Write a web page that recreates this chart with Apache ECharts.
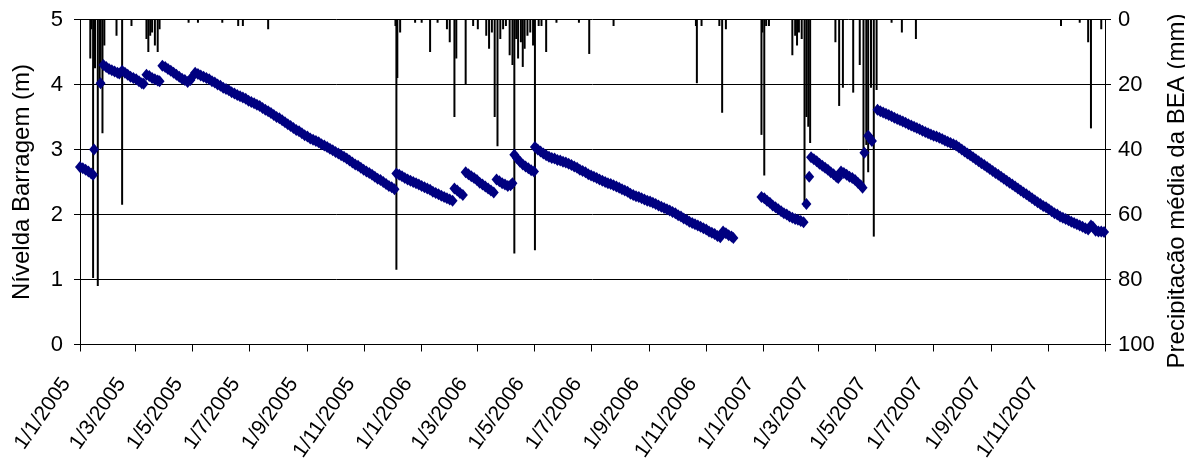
<!DOCTYPE html>
<html>
<head>
<meta charset="utf-8">
<script src="https://cdn.jsdelivr.net/npm/echarts@6/dist/echarts.min.js"></script>
<style>
  html, body { margin: 0; padding: 0; background: #fff; }
  #chart { width: 1185px; height: 462px; }
</style>
</head>
<body>
<div id="chart"></div>
<script>
// Datas marcadas no eixo horizontal (de dois em dois meses)
const rotulosX = [
  '2005-01-01','2005-03-01','2005-05-01','2005-07-01','2005-09-01','2005-11-01',
  '2006-01-01','2006-03-01','2006-05-01','2006-07-01','2006-09-01','2006-11-01',
  '2007-01-01','2007-03-01','2007-05-01','2007-07-01','2007-09-01','2007-11-01'
];
const fimEixo = '2008-01-01';

// Nível da barragem (m)
const nivel = [
  ['2005-01-01',2.73],['2005-01-04',2.71],['2005-01-07',2.69],['2005-01-10',2.66],['2005-01-13',2.63],['2005-01-15',2.61],
  ['2005-01-16',3.00],
  ['2005-01-23',4.02],
  ['2005-01-26',4.30],['2005-01-29',4.27],['2005-02-01',4.24],['2005-02-04',4.22],['2005-02-07',4.20],['2005-02-10',4.18],['2005-02-12',4.17],
  ['2005-02-15',4.21],['2005-02-18',4.18],['2005-02-21',4.15],['2005-02-24',4.12],['2005-02-27',4.10],['2005-03-02',4.08],['2005-03-05',4.05],['2005-03-08',4.02],['2005-03-10',4.01],
  ['2005-03-13',4.15],['2005-03-16',4.13],['2005-03-19',4.10],['2005-03-22',4.08],['2005-03-25',4.06],['2005-03-27',4.05],
  ['2005-03-30',4.29],['2005-04-02',4.27],['2005-04-05',4.24],['2005-04-08',4.21],['2005-04-11',4.18],['2005-04-14',4.15],['2005-04-17',4.12],['2005-04-20',4.09],['2005-04-23',4.07],['2005-04-26',4.04],
  ['2005-04-29',4.07],['2005-05-01',4.12],['2005-05-04',4.18],
  ['2005-05-07',4.16],['2005-05-10',4.14],['2005-05-13',4.12],['2005-05-16',4.10],['2005-05-19',4.08],['2005-05-22',4.05],['2005-05-25',4.03],['2005-05-28',4.00],['2005-05-31',3.98],
  ['2005-06-03',3.95],['2005-06-06',3.93],['2005-06-09',3.91],['2005-06-12',3.88],['2005-06-15',3.86],['2005-06-18',3.84],['2005-06-21',3.82],['2005-06-24',3.80],['2005-06-27',3.78],['2005-06-30',3.75],
  ['2005-07-03',3.73],['2005-07-06',3.71],['2005-07-09',3.69],['2005-07-12',3.67],['2005-07-15',3.64],['2005-07-18',3.61],['2005-07-21',3.59],['2005-07-24',3.56],['2005-07-27',3.53],['2005-07-30',3.50],
  ['2005-08-02',3.48],['2005-08-05',3.45],['2005-08-08',3.42],['2005-08-11',3.39],['2005-08-14',3.36],['2005-08-17',3.33],['2005-08-20',3.30],['2005-08-23',3.28],['2005-08-26',3.25],['2005-08-29',3.22],
  ['2005-09-01',3.20],['2005-09-04',3.17],['2005-09-07',3.15],['2005-09-10',3.13],['2005-09-13',3.11],['2005-09-16',3.08],['2005-09-19',3.06],['2005-09-22',3.04],['2005-09-25',3.01],['2005-09-28',2.99],
  ['2005-10-01',2.96],['2005-10-04',2.94],['2005-10-07',2.91],['2005-10-10',2.89],['2005-10-13',2.86],['2005-10-16',2.83],['2005-10-19',2.80],['2005-10-22',2.77],['2005-10-25',2.75],['2005-10-28',2.72],['2005-10-31',2.69],
  ['2005-11-03',2.66],['2005-11-06',2.64],['2005-11-09',2.61],['2005-11-12',2.58],['2005-11-15',2.55],['2005-11-18',2.53],['2005-11-21',2.50],['2005-11-24',2.47],['2005-11-27',2.44],['2005-11-30',2.42],
  ['2005-12-03',2.39],
  ['2005-12-05',2.63],['2005-12-08',2.61],['2005-12-11',2.59],['2005-12-14',2.56],['2005-12-17',2.54],['2005-12-20',2.52],['2005-12-23',2.50],['2005-12-26',2.48],['2005-12-29',2.46],
  ['2006-01-01',2.44],['2006-01-04',2.42],['2006-01-07',2.40],['2006-01-10',2.38],['2006-01-13',2.35],['2006-01-16',2.33],['2006-01-19',2.31],['2006-01-22',2.29],['2006-01-25',2.27],['2006-01-28',2.25],['2006-01-31',2.23],
  ['2006-02-03',2.21],
  ['2006-02-05',2.40],['2006-02-08',2.37],['2006-02-11',2.33],['2006-02-14',2.30],
  ['2006-02-17',2.65],['2006-02-20',2.62],['2006-02-23',2.59],['2006-02-26',2.56],['2006-03-01',2.53],['2006-03-04',2.49],['2006-03-07',2.46],['2006-03-10',2.43],['2006-03-13',2.40],['2006-03-16',2.37],['2006-03-19',2.34],
  ['2006-03-22',2.54],['2006-03-25',2.51],['2006-03-28',2.48],['2006-03-31',2.46],['2006-04-03',2.44],['2006-04-06',2.45],['2006-04-08',2.48],
  ['2006-04-10',2.92],['2006-04-13',2.86],['2006-04-16',2.81],['2006-04-19',2.77],['2006-04-22',2.74],['2006-04-25',2.71],['2006-04-28',2.68],['2006-05-01',2.66],
  ['2006-05-02',3.04],['2006-05-05',3.00],['2006-05-08',2.97],['2006-05-11',2.94],['2006-05-14',2.91],['2006-05-17',2.89],['2006-05-20',2.87],['2006-05-23',2.86],['2006-05-26',2.84],['2006-05-29',2.83],
  ['2006-06-01',2.81],['2006-06-04',2.80],['2006-06-07',2.78],['2006-06-10',2.76],['2006-06-13',2.74],['2006-06-16',2.72],['2006-06-19',2.69],['2006-06-22',2.67],['2006-06-25',2.65],['2006-06-28',2.62],
  ['2006-07-01',2.60],['2006-07-04',2.58],['2006-07-07',2.56],['2006-07-10',2.54],['2006-07-13',2.52],['2006-07-16',2.50],['2006-07-19',2.48],['2006-07-22',2.47],['2006-07-25',2.45],['2006-07-28',2.43],['2006-07-31',2.41],
  ['2006-08-03',2.39],['2006-08-06',2.37],['2006-08-09',2.35],['2006-08-12',2.32],['2006-08-15',2.30],['2006-08-18',2.28],['2006-08-21',2.27],['2006-08-24',2.25],['2006-08-27',2.23],['2006-08-30',2.21],
  ['2006-09-02',2.20],['2006-09-05',2.18],['2006-09-08',2.16],['2006-09-11',2.14],['2006-09-14',2.12],['2006-09-17',2.10],['2006-09-20',2.08],['2006-09-23',2.06],['2006-09-26',2.04],['2006-09-29',2.02],
  ['2006-10-02',1.99],['2006-10-05',1.97],['2006-10-08',1.94],['2006-10-11',1.92],['2006-10-14',1.89],['2006-10-17',1.87],['2006-10-20',1.85],['2006-10-23',1.83],['2006-10-26',1.81],['2006-10-29',1.79],
  ['2006-11-01',1.77],['2006-11-04',1.74],['2006-11-07',1.72],['2006-11-10',1.70],['2006-11-13',1.67],['2006-11-16',1.65],
  ['2006-11-19',1.74],['2006-11-22',1.71],['2006-11-25',1.68],['2006-11-28',1.66],['2006-11-30',1.64],
  ['2006-12-30',2.27],['2007-01-02',2.25],['2007-01-05',2.21],['2007-01-08',2.18],['2007-01-11',2.14],['2007-01-14',2.11],['2007-01-17',2.08],['2007-01-20',2.05],['2007-01-23',2.02],['2007-01-26',2.00],['2007-01-29',1.97],
  ['2007-02-01',1.95],['2007-02-04',1.93],['2007-02-07',1.92],['2007-02-10',1.90],['2007-02-13',1.88],
  ['2007-02-16',2.16],
  ['2007-02-19',2.58],
  ['2007-02-21',2.88],['2007-02-24',2.85],['2007-02-27',2.82],['2007-03-02',2.78],['2007-03-05',2.75],['2007-03-08',2.72],['2007-03-11',2.69],['2007-03-14',2.65],['2007-03-17',2.62],['2007-03-20',2.58],['2007-03-22',2.56],
  ['2007-03-25',2.66],['2007-03-28',2.64],['2007-03-31',2.61],['2007-04-03',2.58],['2007-04-06',2.56],['2007-04-09',2.53],['2007-04-12',2.49],['2007-04-15',2.45],['2007-04-17',2.41],
  ['2007-04-19',2.95],
  ['2007-04-23',3.21],['2007-04-25',3.17],['2007-04-27',3.13],
  ['2007-05-03',3.61],['2007-05-06',3.59],['2007-05-09',3.57],['2007-05-12',3.55],['2007-05-15',3.53],['2007-05-18',3.51],['2007-05-21',3.49],['2007-05-24',3.47],['2007-05-27',3.45],['2007-05-30',3.43],
  ['2007-06-02',3.41],['2007-06-05',3.39],['2007-06-08',3.37],['2007-06-11',3.35],['2007-06-14',3.33],['2007-06-17',3.31],['2007-06-20',3.29],['2007-06-23',3.27],['2007-06-26',3.25],['2007-06-29',3.23],
  ['2007-07-02',3.21],['2007-07-05',3.20],['2007-07-08',3.18],['2007-07-11',3.16],['2007-07-14',3.14],['2007-07-17',3.12],['2007-07-20',3.10],['2007-07-23',3.08],['2007-07-26',3.06],['2007-07-29',3.03],
  ['2007-08-01',3.00],['2007-08-04',2.97],['2007-08-07',2.94],['2007-08-10',2.91],['2007-08-13',2.88],['2007-08-16',2.85],['2007-08-19',2.82],['2007-08-22',2.79],['2007-08-25',2.76],['2007-08-28',2.73],['2007-08-31',2.70],
  ['2007-09-03',2.67],['2007-09-06',2.64],['2007-09-09',2.61],['2007-09-12',2.58],['2007-09-15',2.55],['2007-09-18',2.52],['2007-09-21',2.49],['2007-09-24',2.46],['2007-09-27',2.43],['2007-09-30',2.40],
  ['2007-10-03',2.37],['2007-10-06',2.34],['2007-10-09',2.31],['2007-10-12',2.28],['2007-10-15',2.25],['2007-10-18',2.22],['2007-10-21',2.19],['2007-10-24',2.16],['2007-10-27',2.13],['2007-10-30',2.11],
  ['2007-11-02',2.08],['2007-11-05',2.05],['2007-11-08',2.02],['2007-11-11',2.00],['2007-11-14',1.97],['2007-11-17',1.95],['2007-11-20',1.93],['2007-11-23',1.91],['2007-11-26',1.89],['2007-11-29',1.87],
  ['2007-12-02',1.85],['2007-12-05',1.83],['2007-12-08',1.81],['2007-12-11',1.79],['2007-12-14',1.77],
  ['2007-12-17',1.83],['2007-12-19',1.81],['2007-12-22',1.75],['2007-12-25',1.74],['2007-12-28',1.74],['2007-12-31',1.73]
];

// Precipitação média diária da BEA (mm)
const precipitacao = [
  ['2005-01-12',12],['2005-01-13',3],['2005-01-15',79.5],['2005-01-17',15],['2005-01-20',82],['2005-01-22',20],['2005-01-23',14],['2005-01-25',35],['2005-01-27',8],
  ['2005-02-09',5],['2005-02-15',57],['2005-02-25',2],
  ['2005-03-13',6],['2005-03-15',10],['2005-03-17',5],['2005-03-19',4],['2005-03-22',8],['2005-03-25',10],['2005-03-27',3],
  ['2005-04-27',1],['2005-05-07',1],['2005-06-02',1],['2005-06-19',2],['2005-06-24',2],['2005-07-21',3],
  ['2005-12-04',2],['2005-12-05',77],['2005-12-06',18],['2005-12-09',4],['2005-12-25',1],
  ['2006-01-01',1],['2006-01-10',10],['2006-01-18',1],['2006-01-28',3],['2006-01-31',7],
  ['2006-02-05',30],['2006-02-07',12],['2006-02-17',20],['2006-02-25',2],
  ['2006-03-02',3],['2006-03-11',5],['2006-03-14',9],['2006-03-17',4],['2006-03-20',30],['2006-03-23',39],['2006-03-26',6],['2006-03-29',3],
  ['2006-04-01',2],['2006-04-05',11],['2006-04-08',14],['2006-04-10',72],['2006-04-12',6],['2006-04-14',12],['2006-04-17',7],['2006-04-19',14.6],['2006-04-21',9],['2006-04-24',5],['2006-04-27',4],['2006-04-30',8],
  ['2006-05-02',71],['2006-05-06',2],['2006-05-09',2],['2006-05-14',10],['2006-05-25',1],
  ['2006-06-18',1],['2006-06-29',10.6],['2006-07-25',2],
  ['2006-10-21',2],['2006-10-22',19.6],['2006-10-27',2],['2006-11-15',2],['2006-11-18',28.7],['2006-11-22',3],
  ['2006-12-30',35.5],['2006-12-31',4],['2007-01-02',48],['2007-01-04',2],['2007-01-07',2],
  ['2007-02-01',11],['2007-02-04',5],['2007-02-06',8],['2007-02-08',4],['2007-02-11',6],['2007-02-14',57.6],['2007-02-16',30],['2007-02-18',33],['2007-02-20',38],
  ['2007-03-19',7],['2007-03-23',26.6],['2007-03-27',21],
  ['2007-04-07',22.5],['2007-04-14',14],['2007-04-18',51],['2007-04-21',38.6],['2007-04-23',47],['2007-04-26',21],['2007-04-29',66.8],
  ['2007-05-02',21.7],['2007-05-18',1],['2007-05-29',4],['2007-06-13',6],
  ['2007-11-15',2],['2007-12-05',1],['2007-12-14',7],['2007-12-17',33.5],['2007-12-28',3]
];

// Eixo horizontal contado em dias desde 1/1/2005
const DIA = 86400000;
const origem = Date.UTC(2005, 0, 1);
const dias = s => {
  const [a, m, d] = s.split('-').map(Number);
  return Math.round((Date.UTC(a, m - 1, d) - origem) / DIA);
};
const rotuloData = v => {
  const d = new Date(origem + Math.round(v) * DIA);
  return d.getUTCDate() + '/' + (d.getUTCMonth() + 1) + '/' + d.getUTCFullYear();
};
const fonte = '"Liberation Sans", Arial, Helvetica, sans-serif';

const chart = echarts.init(document.getElementById('chart'), null, { renderer: 'canvas' });
chart.setOption({
  animation: false,
  backgroundColor: '#ffffff',
  textStyle: { fontFamily: fonte, color: '#000' },
  grid: { left: 80, right: 80, top: 19.5, bottom: 117.5, containLabel: false, outerBoundsMode: 'none' },
  xAxis: {
    type: 'value',
    min: dias(rotulosX[0]),
    max: dias(fimEixo),
    splitLine: { show: false },
    axisLine: { lineStyle: { color: '#000', width: 1 } },
    axisTick: {
      show: true, inside: false, length: 7,
      lineStyle: { color: '#000', width: 1 },
      customValues: rotulosX.concat([fimEixo]).map(dias)
    },
    axisLabel: {
      customValues: rotulosX.map(dias),
      rotate: 55,
      margin: 16,
      padding: [0, 24, 0, 0],
      fontSize: 21,
      color: '#000',
      fontFamily: fonte,
      hideOverlap: false,
      formatter: rotuloData
    }
  },
  yAxis: [
    {
      type: 'value', position: 'left', min: 0, max: 5, interval: 1,
      name: 'Nívelda Barragem (m)',
      nameLocation: 'middle', nameRotate: 90, nameGap: 46,
      nameTextStyle: { fontSize: 24, color: '#000', fontFamily: fonte },
      axisLine: { show: true, lineStyle: { color: '#000', width: 1 } },
      axisTick: { show: true, inside: false, length: 6, lineStyle: { color: '#000' } },
      axisLabel: { fontSize: 22, color: '#000', margin: 17, fontFamily: fonte },
      splitLine: { show: true, lineStyle: { color: '#000', width: 1 } }
    },
    {
      type: 'value', position: 'right', min: 0, max: 100, interval: 20, inverse: true,
      name: 'Precipitação média da BEA (mm)',
      nameLocation: 'middle', nameRotate: 90, nameGap: 47,
      nameTextStyle: { fontSize: 24, color: '#000', fontFamily: fonte, padding: [0, 18, 0, 0] },
      axisLine: { show: true, lineStyle: { color: '#000', width: 1 } },
      axisTick: { show: true, inside: false, length: 6, lineStyle: { color: '#000' } },
      axisLabel: { fontSize: 22, color: '#000', margin: 13, fontFamily: fonte },
      splitLine: { show: false }
    }
  ],
  series: [
    {
      name: 'Precipitação',
      type: 'bar',
      yAxisIndex: 1,
      data: precipitacao.map(p => [dias(p[0]), p[1]]),
      barWidth: 2,
      itemStyle: { color: '#000' },
      z: 2
    },
    {
      name: 'Nível',
      type: 'scatter',
      yAxisIndex: 0,
      data: nivel.map(p => [dias(p[0]), p[1]]),
      symbol: 'diamond',
      symbolSize: [10, 12],
      itemStyle: { color: '#000080', opacity: 1 },
      z: 3
    }
  ]
});
</script>
</body>
</html>
